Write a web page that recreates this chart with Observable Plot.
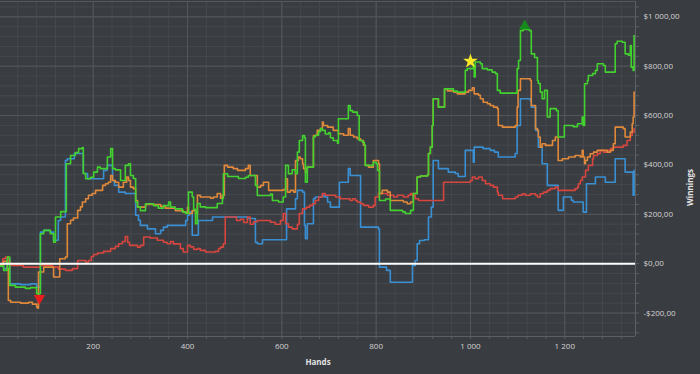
<!DOCTYPE html>
<html><head><meta charset="utf-8">
<script src="https://cdn.jsdelivr.net/npm/d3@7"></script>
<script src="https://cdn.jsdelivr.net/npm/@observablehq/plot@0.6"></script>
<style>html,body{margin:0;padding:0;background:#393c41;overflow:hidden}</style>
</head><body><div id="chart"></div>
<script>
// ---- data: [hand, winnings] step points ----
const greenPts = [[3,-10],[10,-27],[18,27],[23,-88],[35,-95],[56,-100],[67,-97],[80,-122],[88,121],[95,135],[109,121],[116,87],[120,189],[131,211],[143,405],[152,438],[162,450],[169,466],[177,470],[179,365],[184,344],[194,350],[201,371],[209,391],[215,385],[230,432],[237,466],[241,385],[247,380],[258,337],[268,398],[275,405],[279,357],[285,345],[290,250],[294,230],[300,215],[311,243],[328,235],[338,225],[349,235],[360,250],[364,229],[374,222],[389,210],[396,203],[402,290],[410,270],[413,220],[417,162],[421,244],[427,230],[438,227],[463,244],[474,264],[476,364],[485,353],[508,345],[523,350],[529,357],[544,317],[548,276],[576,282],[580,256],[593,250],[603,270],[608,398],[614,364],[622,380],[629,364],[633,452],[637,499],[644,519],[648,510],[650,330],[654,391],[667,513],[671,520],[678,535],[682,547],[686,540],[692,525],[699,530],[703,510],[709,499],[718,488],[720,587],[741,641],[745,620],[750,614],[760,600],[764,499],[771,492],[775,480],[777,398],[794,411],[800,405],[803,378],[807,256],[820,262],[830,216],[856,210],[862,203],[873,216],[879,284],[887,351],[894,355],[909,360],[911,446],[915,472],[919,560],[921,668],[932,634],[945,708],[964,699],[972,695],[989,783],[993,790],[1006,803],[1008,756],[1010,817],[1021,810],[1025,790],[1036,785],[1046,776],[1053,770],[1057,702],[1063,691],[1099,790],[1102,823],[1106,944],[1112,949],[1125,944],[1129,850],[1136,835],[1142,742],[1144,730],[1148,695],[1152,668],[1157,702],[1163,594],[1169,628],[1182,620],[1186,513],[1199,560],[1218,555],[1227,567],[1237,594],[1239,560],[1242,729],[1248,742],[1250,762],[1259,770],[1265,783],[1269,810],[1282,803],[1286,776],[1307,891],[1311,901],[1322,897],[1328,850],[1335,844],[1339,884],[1341,796],[1345,783],[1347,924]];

const orangePts = [[3,-5],[10,10],[18,-20],[20,-149],[25,-156],[46,-160],[63,-156],[71,-164],[80,-176],[82,-180],[84,-34],[95,-14],[116,-54],[129,20],[141,27],[145,162],[152,176],[158,185],[167,216],[173,230],[177,250],[184,263],[190,277],[198,284],[205,297],[220,317],[226,324],[232,330],[237,357],[241,337],[247,330],[254,310],[264,330],[271,351],[275,337],[279,310],[285,304],[290,256],[294,229],[311,240],[343,232],[353,225],[374,215],[391,209],[400,229],[402,203],[410,215],[417,203],[421,277],[427,270],[449,265],[455,270],[463,284],[470,265],[474,277],[478,398],[485,391],[497,385],[506,378],[523,385],[529,398],[533,357],[548,310],[555,317],[561,330],[572,297],[603,300],[608,344],[612,290],[618,297],[625,290],[629,418],[635,432],[639,425],[644,405],[646,385],[650,370],[654,391],[667,519],[675,540],[682,547],[686,574],[688,560],[697,553],[709,540],[720,526],[731,520],[741,547],[745,520],[752,513],[760,506],[767,499],[773,480],[777,398],[784,391],[794,418],[805,405],[807,284],[813,297],[824,290],[830,256],[858,250],[866,243],[873,250],[879,284],[887,351],[894,355],[909,360],[911,446],[915,472],[919,560],[921,668],[932,634],[945,708],[951,700],[964,695],[972,688],[989,695],[996,702],[1004,712],[1008,688],[1017,682],[1021,668],[1027,654],[1036,648],[1042,641],[1049,634],[1057,628],[1059,560],[1068,553],[1095,560],[1099,634],[1101,702],[1106,749],[1127,742],[1129,641],[1138,547],[1142,540],[1144,513],[1148,472],[1152,486],[1159,479],[1174,499],[1180,513],[1186,418],[1195,425],[1208,432],[1222,438],[1233,432],[1237,459],[1239,432],[1242,405],[1244,418],[1248,432],[1254,445],[1261,452],[1269,459],[1290,452],[1297,459],[1303,486],[1307,553],[1324,547],[1328,513],[1339,533],[1343,567],[1345,594],[1347,695]];

const bluePts = [[3,-5],[10,-20],[18,20],[23,-82],[46,-85],[67,-82],[80,-95],[88,128],[95,135],[109,128],[116,95],[126,175],[131,189],[141,418],[145,425],[160,446],[177,446],[179,365],[188,344],[222,378],[230,398],[241,337],[245,317],[254,290],[268,284],[290,196],[296,176],[300,155],[315,141],[332,121],[343,135],[349,148],[357,155],[396,175],[400,196],[404,209],[410,115],[423,175],[453,189],[527,183],[544,87],[548,81],[559,97],[603,97],[610,222],[629,263],[633,297],[644,290],[648,155],[650,101],[654,162],[667,263],[671,270],[686,277],[690,270],[697,250],[703,229],[722,330],[741,385],[745,357],[767,148],[805,140],[807,-14],[822,-27],[830,-75],[877,-7],[883,13],[887,81],[892,94],[902,97],[911,189],[917,229],[921,418],[932,385],[953,371],[968,365],[974,353],[989,459],[1006,411],[1008,472],[1027,466],[1042,459],[1051,452],[1059,432],[1095,446],[1099,560],[1106,668],[1127,660],[1129,634],[1138,540],[1144,472],[1152,405],[1163,317],[1186,216],[1197,270],[1214,257],[1218,250],[1239,209],[1246,324],[1265,351],[1286,330],[1307,425],[1328,371],[1345,277],[1347,378]];

const redPts = [[3,0],[8,20],[14,27],[20,5],[25,-7],[52,-14],[88,-7],[114,-14],[126,-22],[141,-27],[156,-20],[167,13],[184,7],[190,13],[196,29],[201,37],[209,43],[222,50],[237,61],[247,70],[254,81],[262,90],[268,110],[273,87],[277,74],[294,67],[300,74],[307,108],[321,104],[336,95],[349,87],[357,81],[364,90],[370,80],[385,61],[391,47],[400,74],[406,68],[413,58],[421,61],[427,54],[438,47],[459,50],[466,61],[470,67],[476,81],[480,189],[504,175],[512,180],[519,167],[527,189],[533,160],[540,170],[548,175],[576,168],[586,160],[597,175],[603,203],[608,162],[614,148],[622,141],[633,160],[637,203],[644,222],[652,229],[659,236],[665,243],[671,256],[678,270],[686,284],[692,277],[714,270],[724,263],[745,256],[750,263],[756,256],[760,250],[767,243],[773,236],[784,229],[794,236],[798,270],[805,284],[824,277],[837,270],[845,277],[858,270],[868,277],[873,284],[877,277],[883,263],[890,256],[915,256],[943,330],[968,330],[1000,337],[1004,351],[1010,344],[1017,351],[1025,337],[1032,324],[1042,317],[1049,310],[1057,290],[1059,277],[1068,263],[1095,270],[1101,277],[1110,283],[1116,277],[1127,283],[1138,277],[1142,270],[1148,283],[1155,290],[1163,297],[1169,304],[1180,310],[1186,297],[1222,304],[1227,310],[1229,324],[1233,337],[1237,351],[1244,378],[1250,398],[1259,425],[1261,438],[1269,445],[1275,459],[1282,452],[1290,459],[1297,466],[1303,472],[1324,479],[1332,499],[1339,519],[1343,533],[1347,547]];

const seriesNames  = ["blue", "red", "orange", "green"];
const seriesPoints = [bluePts, redPts, orangePts, greenPts];
const seriesColors = ["#3a8fd2", "#d6463f", "#e0893a", "#43d12f"];

const markerKinds  = ["star", "maxTriangle", "minTriangle"];
const markerHands  = [1000, 1115, 86];
const markerValues = [820, 963, -140];

const xDomain = [3.4, 1350];
const yDomain = [-295, 1062];
const xTicks = [200, 400, 600, 800, 1000, 1200];
const xTickLabels = ["200", "400", "600", "800", "1 000", "1 200"];
const yTicks = [-200, 0, 200, 400, 600, 800, 1000];
const yTickLabels = ["-$200,00", "$0,00", "$200,00", "$400,00", "$600,00", "$800,00", "$1 000,00"];
const xMinor = [40,80,120,160,200,240,280,320,360,400,440,480,520,560,600,640,680,720,760,800,840,880,920,960,1000,1040,1080,1120,1160,1200,1240,1280,1320];
const yMinor = [-280,-240,-200,-160,-120,-80,-40,0,40,80,120,160,200,240,280,320,360,400,440,480,520,560,600,640,680,720,760,800,840,880,920,960,1000,1040];
const xTitle = "Hands";
const yTitle = "Winnings";

// ---- build ----
const lineMarks = seriesNames.map((name, i) =>
  Plot.line(seriesPoints[i].map(([h, v]) => ({hand: h, value: v})), {
    x: "hand", y: "value", curve: "step-after",
    stroke: seriesColors[i], strokeWidth: 1.6
  })
);
const markers = markerKinds.map((k, i) => ({kind: k, hand: markerHands[i], value: markerValues[i]}));
const txt = "#d4d4d4";
const gridMinor = "#45484d", gridMajor = "#54575c", edge = "#5c5f64";

const chart = Plot.plot({
  width: 700, height: 374,
  marginLeft: 0, marginRight: 65, marginTop: 1, marginBottom: 38,
  style: {background: "#393c41", fontFamily: "'Open Sans', sans-serif", fontSize: "8px", color: txt},
  x: {domain: xDomain, axis: null},
  y: {domain: yDomain, axis: null},
  marks: [
    Plot.gridX(xMinor, {stroke: gridMinor, strokeOpacity: 1}),
    Plot.gridY(yMinor, {stroke: gridMinor, strokeOpacity: 1}),
    Plot.gridX(xTicks, {stroke: gridMajor, strokeOpacity: 1}),
    Plot.gridY(yTicks, {stroke: gridMajor, strokeOpacity: 1}),
    Plot.ruleY([yDomain[1]], {stroke: gridMajor}),
    Plot.ruleY([yDomain[0]], {stroke: edge}),
    Plot.ruleX([xDomain[1]], {stroke: edge}),
    Plot.axisX(xMinor, {anchor: "bottom", tickSize: 3, stroke: edge, fill: "none", label: null}),
    Plot.axisY(yMinor, {anchor: "right", tickSize: 3, stroke: edge, fill: "none", label: null}),
    Plot.axisX(xTicks, {anchor: "bottom", tickSize: 0, tickPadding: 7, fill: txt, fontSize: 8,
      tickFormat: (d) => xTickLabels[xTicks.indexOf(d)], label: null}),
    Plot.axisY(yTicks, {anchor: "right", tickSize: 0, tickPadding: 8, fill: txt, fontSize: 8,
      tickFormat: (d) => yTickLabels[yTicks.indexOf(d)], label: null}),
    ...lineMarks,
    Plot.ruleY([0], {stroke: "#ffffff", strokeWidth: 2}),
    Plot.dot(markers.filter(d => d.kind === "star"), {x: "hand", y: "value", symbol: "star", r: 4.6, fill: "#f7e925", stroke: "none"}),
    Plot.dot(markers.filter(d => d.kind === "maxTriangle"), {x: "hand", y: "value", symbol: "triangle", r: 4.2, fill: "#168a1c", stroke: "none"}),
    Plot.dot(markers.filter(d => d.kind === "minTriangle"), {x: "hand", y: "value", symbol: "triangle", rotate: 180, r: 4.2, fill: "#e81e1e", stroke: "none"}),
    Plot.text([xTitle], {frameAnchor: "bottom", dy: 28, fontWeight: "bold", fontSize: 8, fill: "#e2e2e2"}),
    Plot.text([yTitle], {frameAnchor: "right", dx: 55, rotate: -90, fontWeight: "bold", fontSize: 8, fill: "#e2e2e2"})
  ]
});
document.getElementById("chart").appendChild(chart);
</script>
</body></html>
